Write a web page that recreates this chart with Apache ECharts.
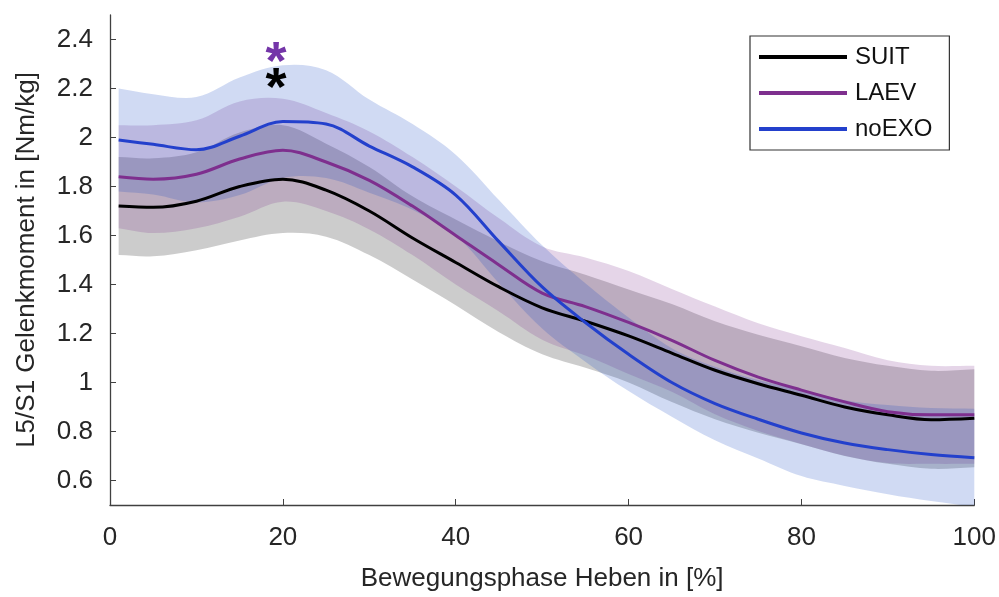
<!DOCTYPE html>
<html>
<head>
<meta charset="utf-8">
<script src="https://cdn.jsdelivr.net/npm/echarts@6/dist/echarts.min.js"></script>
<style>
  html, body { margin: 0; padding: 0; background: #fff; }
  #chart { width: 999px; height: 597px; }
</style>
</head>
<body>
<div id="chart"></div>
<script>
  // Bewegungsphase (x, %)
  const phase = [1, 5, 10, 15, 20, 25, 30, 35, 40, 45, 50, 55, 60, 65, 70, 75, 80, 85, 90, 95, 100]
  // Mittelwerte und Standardabweichungen
  const suitMean = [1.72, 1.715, 1.74, 1.80, 1.83, 1.785, 1.70, 1.59, 1.49, 1.39, 1.305, 1.25, 1.19, 1.12, 1.05, 0.995, 0.948, 0.90, 0.868, 0.848, 0.854]
  const suitSd = [0.2, 0.2, 0.2, 0.22, 0.22, 0.19, 0.18, 0.17, 0.175, 0.185, 0.19, 0.19, 0.19, 0.2, 0.2, 0.2, 0.2, 0.2, 0.2, 0.2, 0.2]
  const laevMean = [1.84, 1.83, 1.85, 1.912, 1.948, 1.90, 1.825, 1.72, 1.60, 1.48, 1.365, 1.31, 1.245, 1.172, 1.09, 1.022, 0.969, 0.921, 0.881, 0.868, 0.868]
  const laevSd = [0.21, 0.22, 0.22, 0.235, 0.21, 0.2, 0.2, 0.2, 0.2, 0.19, 0.19, 0.2, 0.21, 0.21, 0.22, 0.22, 0.22, 0.22, 0.21, 0.2, 0.2]
  const exoMean = [1.99, 1.972, 1.95, 2.005, 2.065, 2.055, 1.965, 1.88, 1.765, 1.575, 1.39, 1.245, 1.115, 1.0, 0.914, 0.85, 0.794, 0.753, 0.726, 0.706, 0.693]
  const exoSd = [0.21, 0.205, 0.215, 0.24, 0.23, 0.22, 0.19, 0.175, 0.165, 0.17, 0.17, 0.16, 0.15, 0.14, 0.15, 0.16, 0.176, 0.175, 0.182, 0.19, 0.2]
  // Signifikanz-Sterne
  const starPhase = [19.2, 19.2]
  const starValue = [2.345, 2.24]
  // Achsenbeschriftung
  const xTicks = [0, 20, 40, 60, 80, 100]
  const yTicks = [0.6, 0.8, 1, 1.2, 1.4, 1.6, 1.8, 2, 2.2, 2.4]

  const groups = [
    { name: 'SUIT', mean: suitMean, sd: suitSd, line: '#000000', fill: '#000000' },
    { name: 'LAEV', mean: laevMean, sd: laevSd, line: '#7e2f8e', fill: '#7e2f8e' },
    { name: 'noEXO', mean: exoMean, sd: exoSd, line: '#2340cc', fill: '#1446c3' }
  ]
  const font = 'Liberation Sans, Arial, sans-serif'
  const axisColor = '#404040'

  const series = []
  // Streuband (Mittelwert +/- SD) als Polygon
  groups.forEach(function (g) {
    series.push({
      type: 'custom', silent: true, z: 1, clip: true,
      data: [0],
      renderItem: function (params, api) {
        const upper = phase.map((x, k) => api.coord([x, g.mean[k] + g.sd[k]]))
        const lower = phase.map((x, k) => api.coord([x, g.mean[k] - g.sd[k]])).reverse()
        // Enden doppeln, damit die Ecken nicht abgerundet werden
        const pts = [upper[0]].concat(upper, [upper[upper.length - 1]], [lower[0]], lower, [lower[lower.length - 1]])
        return {
          type: 'polygon',
          shape: { points: pts, smooth: 0.35 },
          style: { fill: g.fill, opacity: 0.2 }
        }
      }
    })
  })
  groups.forEach(function (g) {
    series.push({
      name: g.name, type: 'line', symbol: 'none', z: 3, smooth: 0.35,
      color: g.line,
      lineStyle: { color: g.line, width: 3 },
      data: phase.map((x, k) => [x, g.mean[k]])
    })
  })
  series.push({
    type: 'scatter', symbol: 'circle', symbolSize: 1, z: 5, silent: true,
    itemStyle: { color: 'rgba(0,0,0,0)', opacity: 1 },
    label: {
      show: true, position: 'inside', formatter: '*', fontSize: 54, fontWeight: 'bold',
      fontFamily: font, offset: [0, 11], textBorderWidth: 0
    },
    data: [
      { value: [starPhase[0], starValue[0]], label: { color: '#7435a8' } },
      { value: [starPhase[1], starValue[1]], label: { color: '#000000' } }
    ]
  })

  const chart = echarts.init(document.getElementById('chart'))
  chart.setOption({
    animation: false,
    backgroundColor: '#ffffff',
    grid: { left: 110, right: 24, top: 15, bottom: 91 },
    legend: {
      data: groups.map(g => g.name),
      orient: 'vertical',
      left: 750, top: 36,
      padding: [9, 17, 9, 9],
      itemWidth: 88, itemHeight: 4, itemGap: 12,
      icon: 'rect',
      borderColor: '#333', borderWidth: 1.2,
      textStyle: { fontSize: 24, fontFamily: font, color: '#111', padding: [0, 0, 0, 3] }
    },
    xAxis: {
      type: 'value', min: 0, max: 100, interval: 20,
      name: 'Bewegungsphase Heben in [%]',
      nameLocation: 'middle', nameGap: 61,
      nameTextStyle: { fontSize: 26, fontFamily: font, color: '#262626' },
      axisLine: { lineStyle: { color: axisColor, width: 1.3 } },
      axisTick: { inside: true, length: 6, lineStyle: { color: axisColor }, customValues: xTicks },
      axisLabel: { fontSize: 26, fontFamily: font, color: '#262626', margin: 20, customValues: xTicks },
      splitLine: { show: false }
    },
    yAxis: {
      type: 'value', min: 0.5, max: 2.5,
      name: 'L5/S1 Gelenkmoment in [Nm/kg]',
      nameLocation: 'middle', nameGap: 70,
      nameTextStyle: { fontSize: 26, fontFamily: font, color: '#262626' },
      axisLine: { show: true, lineStyle: { color: axisColor, width: 1.3 } },
      axisTick: { show: true, inside: true, length: 6, lineStyle: { color: axisColor }, customValues: yTicks },
      axisLabel: { fontSize: 26, fontFamily: font, color: '#262626', margin: 17, customValues: yTicks },
      splitLine: { show: false }
    },
    series: series
  })
</script>
</body>
</html>
